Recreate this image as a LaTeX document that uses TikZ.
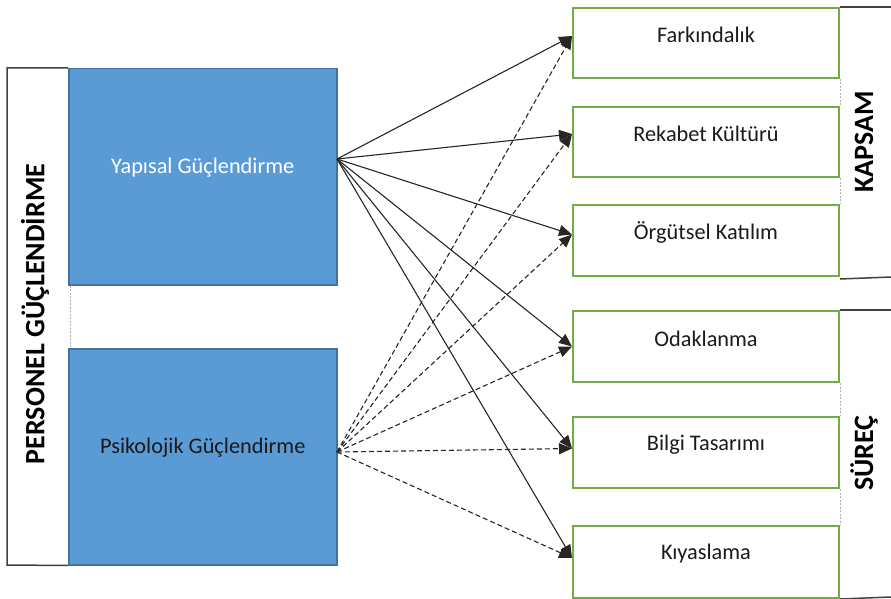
\documentclass[tikz,border=0pt]{standalone}
\usepackage{fontspec}
\setmainfont{Carlito}
\usetikzlibrary{arrows.meta,calc}
\definecolor{bluefill}{HTML}{5B9BD5}
\definecolor{blueline}{HTML}{41719C}
\definecolor{greenline}{HTML}{70AD47}
\definecolor{txt}{HTML}{1A1A1A}
\begin{document}
\begin{tikzpicture}[x=1pt,y=-1pt,
  bluebox/.style={draw=blueline, fill=bluefill, line width=1.5pt, minimum width=268pt, minimum height=216pt, inner sep=0pt, anchor=north west},
  greenbox/.style={draw=greenline, line width=2pt, minimum width=266pt, minimum height=70pt, inner sep=0pt, anchor=north west},
  lbl/.style={font=\fontsize{22.3}{25}\selectfont, text=txt},
  bigl/.style={font=\fontsize{28}{31}\selectfont\bfseries, text=black, rotate=90},
  bracket/.style={draw=black!75, line width=1.5pt},
  sep/.style={draw=gray!60, line width=0.6pt, dash pattern=on 2pt off 1.5pt},
  solidarrow/.style={draw=black!85, line width=1.1pt, -{Triangle[length=13pt,width=11pt]}},
  dasharrow/.style={solidarrow, dash pattern=on 5pt off 3pt}
]
\useasboundingbox (0,0) rectangle (891,599);
% left boxes
\node[bluebox] (yap) at (68,68) {};
\node[bluebox] (psi) at (68,348) {};
\node[lbl, text=white] (yapT) at ($(yap.center)+(0,-9)$) {Yapısal Güçlendirme};
\node[lbl] (psiT) at ($(psi.center)+(0,-9)$) {Psikolojik Güçlendirme};
% left bracket
\coordinate (lt) at (7,68);
\coordinate (lb) at (7,565);
\draw[bracket] (yap.north west) -- (lt) -- (lb) -- (psi.south west);
\draw[sep] ($(yap.south west)+(2,0)$) -- ($(psi.north west)+(2,0)$);
\node[bigl] (pers) at (35,314) {PERSONEL GÜÇLENDİRME};
% right boxes
\node[greenbox] (far) at (572,7) {};
\node[greenbox] (rek) at (572,106) {};
\node[greenbox, minimum height=71pt] (org) at (572,204) {};
\node[greenbox, minimum height=71pt] (oda) at (572,310) {};
\node[greenbox, minimum height=71pt] (bil) at (572,416) {};
\node[greenbox, minimum height=72pt] (kiy) at (572,525) {};
\node[lbl] (farT) at ($(far.center)+(0,-8)$) {Farkındalık};
\node[lbl] (rekT) at ($(rek.center)+(0,-8)$) {Rekabet Kültürü};
\node[lbl] (orgT) at ($(org.center)+(0,-8)$) {Örgütsel Katılım};
\node[lbl] (odaT) at ($(oda.center)+(0,-8)$) {Odaklanma};
\node[lbl] (bilT) at ($(bil.center)+(0,-8)$) {Bilgi Tasarımı};
\node[lbl] (kiyT) at ($(kiy.center)+(0,-8)$) {Kıyaslama};
% right brackets
\coordinate (kt) at (891,7);
\coordinate (kb) at (891,277);
\coordinate (st) at (891,310);
\coordinate (sb) at (891,597);
\draw[bracket] (far.north east) -- (kt);
\draw[bracket] ($(org.south east)+(0,2)$) -- (kb);
\draw[bracket] (oda.north east) -- (st);
\draw[bracket] (kiy.south east) -- (sb);
\draw[sep] (far.south east) -- (rek.north east);
\draw[sep] (rek.south east) -- (org.north east);
\draw[sep] (oda.south east) -- (bil.north east);
\draw[sep] (bil.south east) -- (kiy.north east);
\node[bigl] (kap) at (864,142) {KAPSAM};
\node[bigl] (sur) at (864,453) {SÜREÇ};
% arrow ends
\coordinate (ys) at (337,159);
\coordinate (ps) at (337,452);
\coordinate (farE) at ($(far.west)+(0,-7)$);
\coordinate (rekE) at ($(rek.west)+(0,-8)$);
\coordinate (orgE) at ($(org.west)+(0,-6)$);
\coordinate (odaE) at ($(oda.west)+(0,0)$);
\coordinate (bilE) at ($(bil.west)+(0,-4)$);
\coordinate (kiyE) at ($(kiy.west)+(0,-4)$);
\foreach \t in {farE,rekE,orgE,odaE,bilE,kiyE}{
  \draw[solidarrow] (ys) -- (\t);
  \draw[dasharrow] (ps) -- (\t);
}
\end{tikzpicture}
\end{document}
